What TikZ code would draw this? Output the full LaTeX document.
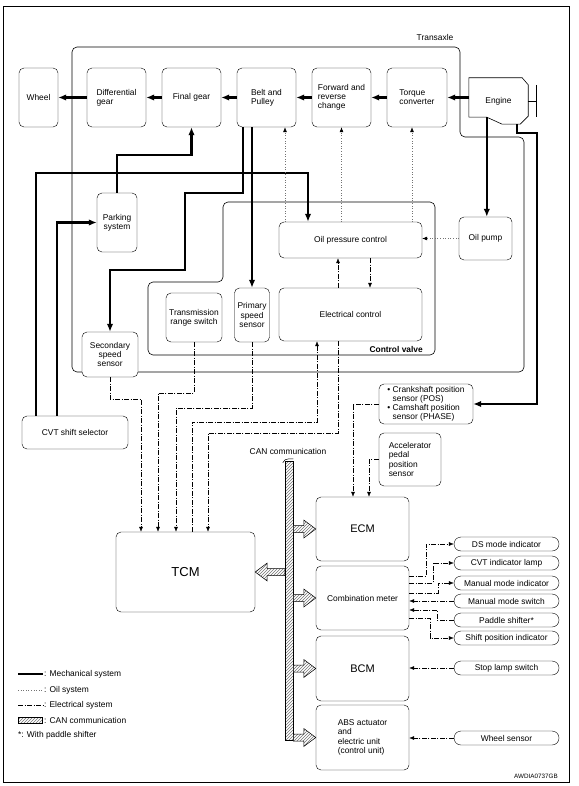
\documentclass[tikz,border=0pt]{standalone}
\usepackage{fontspec}
\setmainfont{Liberation Sans}
\usetikzlibrary{arrows.meta,calc,patterns}

% hatched CAN branch, horizontal, from #1 to #2
\newcommand\canarrow[2]{%
  \draw[canfill] let \p1=(#1), \p2=(#2), \p3=($(#2)!12pt!(#1)$) in
    (\x1,\y1+3.5pt) -- (\x3,\y1+3.5pt) -- (\x3,\y1+9pt) -- (\x2,\y2)
    -- (\x3,\y1-9pt) -- (\x3,\y1-3.5pt) -- (\x1,\y1-3.5pt) -- cycle;}

\begin{document}
\begin{tikzpicture}[x=1pt, y=-1pt,
  txt/.style={font=\fontsize{8.4}{9.2}\selectfont, inner sep=1pt},
  box/.style={txt, draw, fill=white, rounded corners=5pt, align=center},
  sized/.style 2 args={minimum width=#1pt, minimum height=#2pt},
  pill/.style={txt, draw, fill=white, rounded corners=7pt, minimum width=105pt, minimum height=14pt},
  mech/.style={line width=2.2pt, -{Latex[length=8pt,width=6.5pt]}},
  oil/.style={line width=0.6pt, dotted, black!55, -{Latex[length=5pt,width=4pt,color=black]}},
  elec/.style={line width=0.5pt, dash pattern=on 5pt off 1.5pt on 1pt off 1.5pt, -{Latex[length=5pt,width=4pt]}},
  canfill/.style={draw, line width=0.5pt, preaction={fill=white}, pattern=north east lines, pattern color=black!55},
  frame/.style={line width=0.6pt, rounded corners=5pt}]
\useasboundingbox (0,0) rectangle (578,786);
%\draw[help lines] (0,0) grid[step=50] (578,786);
\draw[line width=0.8pt] (3,6) rectangle (569,782);

% transaxle and control valve outlines
\draw[frame] (72,47) -- (460,47) -- (460,137) -- (524,137) -- (524,372) -- (72,372) -- cycle;
\draw[frame] (223,202) -- (435,202) -- (435,355) -- (148,355) -- (148,282) -- (223,282) -- cycle;
\node[txt] (transaxle) at (435,38) {Transaxle};
\node[txt, font=\fontsize{8.4}{9}\selectfont\bfseries, anchor=east] (cvlabel) at (424,349) {Control valve};

\node[box, sized={39}{59}] (wheel) at (38.5,97.5) {Wheel};
\node[box, sized={59}{59}, align=left] (diff) at (116.5,97.5) {Differential\\gear};
\node[box, sized={59}{59}] (final) at (191.5,97.5) {Final gear};
\node[box, sized={59}{59}, align=left] (belt) at (266.5,97.5) {Belt and\\Pulley};
\node[box, sized={59}{59}, align=left] (fwd) at (341.5,97.5) {Forward and\\reverse\\change};
\node[box, sized={60}{59}, align=left] (tc) at (417,97.5) {Torque\\converter};
\node[txt, sized={59}{46}] (engine) at (498.5,101) {Engine};
\draw[line width=0.6pt] (engine.north west) -- ([xshift=-6pt]engine.north east) -- ([yshift=-7pt]engine.north east)
  -- ([yshift=8pt]engine.south east) -- ([xshift=-8pt]engine.south east) -- ([xshift=-26pt]engine.south east)
  -- ([xshift=18pt,yshift=7pt]engine.south west) coordinate (notch) -- ([yshift=7pt]engine.south west) -- cycle;
\draw[line width=0.6pt] (engine.east) -- ++(8,0) coordinate (fly) ++(0,-16) -- ++(0,32);

\node[box, sized={40}{59}] (park) at (117,222.5) {Parking\\system};
\node[box, sized={143}{36}] (opc) at (350.5,240) {Oil pressure control};
\node[box, sized={143}{53}] (elc) at (350.5,314.5) {Electrical control};
\node[box, sized={53}{43}] (pump) at (485.5,238.5) {Oil pump};
\node[box, sized={56}{49}] (trs) at (194,317.5) {Transmission\\range switch};
\node[box, sized={35}{54}] (pss) at (252,315) {Primary\\speed\\sensor};
\node[box, sized={56}{45}] (sss) at (110,354.5) {Secondary\\speed\\sensor};
\node[box, sized={106}{33}] (cvt) at (75,432.5) {CVT shift selector};
\node[box, sized={94}{40}, align=left] (crank) at (426,404) {\textbullet\ Crankshaft position\\\hphantom{\textbullet\ }sensor (POS)\\\textbullet\ Camshaft position\\\hphantom{\textbullet\ }sensor (PHASE)};
\node[box, sized={62}{53}, align=left] (accel) at (410,459.5) {Accelerator\\pedal\\position\\sensor};

\node[box, sized={139}{80}, font=\fontsize{13}{15}\selectfont] (tcm) at (185.5,572) {TCM};
\node[box, sized={93}{64}, font=\fontsize{11}{13}\selectfont] (ecm) at (362.5,529) {ECM};
\node[box, sized={93}{64}] (meter) at (362.5,598) {Combination meter};
\node[box, sized={93}{65}, font=\fontsize{11}{13}\selectfont] (bcm) at (362.5,668.5) {BCM};
\node[box, sized={93}{65}, align=left] (abs) at (362.5,737.5) {ABS actuator\\and\\electric unit\\(control unit)};

\node[pill] (ds) at (506.5,544) {DS mode indicator};
\node[pill] (cvtl) at (506.5,563) {CVT indicator lamp};
\node[pill] (mmi) at (506.5,583) {Manual mode indicator};
\node[pill] (mms) at (506.5,601) {Manual mode switch};
\node[pill] (pad) at (506.5,620) {Paddle shifter*};
\node[pill] (spi) at (506.5,638) {Shift position indicator};
\node[pill] (stop) at (506.5,668) {Stop lamp switch};
\node[pill] (wsen) at (506.5,738) {Wheel sensor};

% CAN line
\node[txt] (canlabel) at (288,451) {CAN communication};
\node[canfill, minimum width=8pt, minimum height=279pt, inner sep=0pt] (can) at (289,600.5) {};
\draw[line width=0.5pt] ([xshift=-2pt,yshift=-2pt]can.north west) to[out=70,in=180] ([yshift=2pt]can.north) -- ([yshift=2pt]can.north east);
\canarrow{can.west |- tcm.east}{tcm.east}
\canarrow{can.east |- ecm.west}{ecm.west}
\canarrow{can.east |- meter.west}{meter.west}
\canarrow{can.east |- bcm.west}{bcm.west}
\canarrow{can.east |- abs.west}{abs.west}

% mechanical
\draw[mech] (engine.west |- tc.east) -- (tc.east);
\draw[mech] (tc.west) -- (fwd.east);
\draw[mech] (fwd.west) -- (belt.east);
\draw[mech] (belt.west) -- (final.east);
\draw[mech] (final.west) -- (diff.east);
\draw[mech] (diff.west) -- (wheel.east);
\draw[mech] (notch) -- (notch |- pump.north);
\draw[mech] ([xshift=18.5pt]engine.south) -- ++(0,9) -- ++(20,0) |- (crank.east);
\draw[mech] (243,0 |- belt.south) |- (185,193) |- (sss.north |- 0,270) -- (sss.north);
\draw[mech] (belt.south -| pss.north) -- (pss.north);
\draw[mech] (36,0 |- cvt.north) |- (308,173) -- (308,0 |- opc.north);
\draw[mech] (57,0 |- cvt.north) |- (park.west);
\draw[mech] (park.north) -- ++(0,-38) -| (final.south);

% oil
\draw[oil] (pump.west) -- (pump.west -| opc.east);
\draw[oil] (285,0 |- opc.north) -- (285,0 |- belt.south);
\draw[oil] (fwd.south |- opc.north) -- (fwd.south);
\draw[oil] (412,0 |- opc.north) -- (412,0 |- tc.south);

% electrical
\draw[elec] (370,0 |- opc.south) -- (370,0 |- elc.north);
\draw[elec] (338,0 |- elc.north) -- (338,0 |- opc.south);
\draw[elec] (sss.south) |- (141,399) -- (141,0 |- tcm.north);
\draw[elec] (trs.south) |- (158,393) -- (158,0 |- tcm.north);
\draw[elec] (pss.south) |- (176,408) -- (176,0 |- tcm.north);
\draw[elec] (192,0 |- tcm.north) |- (317,422) -- (317,0 |- elc.south);
\draw[elec] (338,0 |- elc.south) |- (208,433) -- (208,0 |- tcm.north);
\draw[elec] (crank.west) -| (353,0 |- ecm.north);
\draw[elec] (accel.west) -| (369,0 |- ecm.north);
\draw[elec] (meter.east |- 0,576) -- (426,576) |- (ds.west);
\draw[elec] (meter.east |- 0,583) -- (433,583) |- (cvtl.west);
\draw[elec] (meter.east |- 0,593) -- (438,593) |- (mmi.west);
\draw[elec] (mms.west) -- (mms.west -| meter.east);
\draw[elec] (pad.west) -| (437,610) -- (meter.east |- 0,610);
\draw[elec] (meter.east |- 0,618) -- (430,618) |- (spi.west);
\draw[elec] (stop.west) -- (stop.west -| bcm.east);
\draw[elec] (wsen.west) -- (wsen.west -| abs.east);

% legend
\node[txt, anchor=west] (lgmech) at (43,674) {: Mechanical system};
\node[txt, anchor=west] (lgoil) at (43,690) {: Oil system};
\node[txt, anchor=west] (lgelec) at (43,705) {: Electrical system};
\node[txt, anchor=west] (lgcan) at (43,720) {: CAN communication};
\node[txt, anchor=west] (lgnote) at (17,735) {*: With paddle shifter};
\draw[mech,-] ([xshift=-25pt]lgmech.west) -- (lgmech.west);
\draw[oil,-] ([xshift=-25pt]lgoil.west) -- (lgoil.west);
\draw[elec,-] ([xshift=-25pt]lgelec.west) -- (lgelec.west);
\draw[canfill] ([xshift=-25pt,yshift=3pt]lgcan.west) rectangle ([xshift=-1pt,yshift=-3pt]lgcan.west);
\node[txt, font=\fontsize{6.3}{7}\selectfont] (code) at (536,776) {AWDIA0737GB};
\end{tikzpicture}
\end{document}
